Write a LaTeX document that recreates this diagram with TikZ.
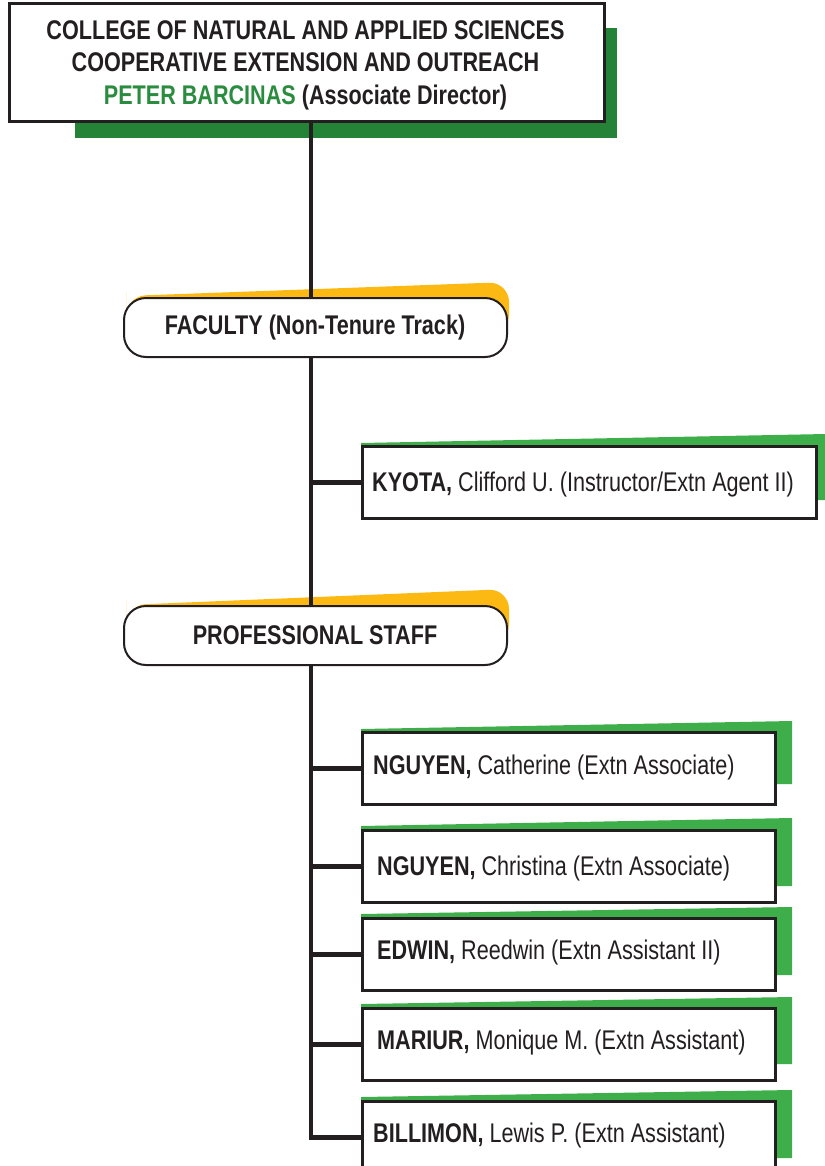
\documentclass[tikz,border=0pt]{standalone}
\usepackage{fontspec}
\setmainfont{Liberation Sans}[FakeStretch=0.80]
\definecolor{ink}{HTML}{231F20}
\definecolor{dgreen}{HTML}{248337}
\definecolor{lgreen}{HTML}{3DAE49}
\definecolor{gold}{HTML}{FDB913}
\definecolor{tgreen}{HTML}{2A8C3F}
\begin{document}
\begin{tikzpicture}[x=1bp,y=-1bp]
\useasboundingbox (0,0) rectangle (825,1166);
\tikzset{
  txt/.style={font=\fontsize{27bp}{32.5bp}\selectfont, text=ink, inner sep=0pt},
  conn/.style={draw=ink, line width=4.5bp},
  topbox/.style={draw=ink, fill=white, line width=2.5bp, inner sep=0pt, anchor=north west, minimum width=595bp, minimum height=118bp},
  headbox/.style={draw=ink, fill=white, line width=2bp, rounded corners=22bp, inner sep=0pt, anchor=north west, minimum width=383bp, minimum height=59bp},
  staffbox/.style={draw=ink, fill=white, line width=2.5bp, inner sep=0pt, anchor=north west, minimum width=413bp, minimum height=72bp},
  kbox/.style={staffbox, minimum width=454bp},
  gshade/.style={fill=lgreen},
  yshade/.style={fill=gold, rounded corners=20bp}
}
% top box shadow
\fill[dgreen] (75,28) rectangle (617,138);
% spine
\coordinate (s0) at (311,120);
% heading shadows
\fill[yshade] (126,312) -- (126,296) -- (509,282) -- (509,335) -- (126,335) -- cycle;
\fill[yshade] (126,620) -- (126,605) -- (509,589) -- (509,644) -- (126,644) -- cycle;
% staff shadows
\fill[gshade] (361,443) -- (826,434) -- (826,500) -- (361,500) -- cycle;
\fill[gshade] (361,729) -- (792,721) -- (792,784) -- (361,784) -- cycle;
\fill[gshade] (361,826) -- (792,818) -- (792,886) -- (361,886) -- cycle;
\fill[gshade] (361,914) -- (792,907) -- (792,975) -- (361,975) -- cycle;
\fill[gshade] (361,1004) -- (792,997) -- (792,1064) -- (361,1064) -- cycle;
\fill[gshade] (361,1097) -- (792,1090) -- (792,1158) -- (361,1158) -- cycle;
% boxes (nodes)
\node[kbox] (kyota) at (361,445) {};
\node[staffbox] (b1) at (361,731) {};
\node[staffbox] (b2) at (361,829) {};
\node[staffbox] (b3) at (361,917) {};
\node[staffbox] (b4) at (361,1007) {};
\node[staffbox] (b5) at (361,1100) {};
% connectors
\draw[conn] (s0) -- (s0 |- b5.west) -- (b5.west);
\draw[conn] (s0 |- kyota.west) -- (kyota.west);
\draw[conn] (s0 |- b1.west) -- (b1.west);
\draw[conn] (s0 |- b2.west) -- (b2.west);
\draw[conn] (s0 |- b3.west) -- (b3.west);
\draw[conn] (s0 |- b4.west) -- (b4.west);
% redraw box borders over connector ends
\node[kbox, fill=none] at (361,445) {};
\foreach \y in {731,829,917,1007,1100} \node[staffbox, fill=none] at (361,\y) {};
% top box
\node[topbox] (top) at (8,2) {};
\node[txt, align=center] (toptext) at (305.5,65) {\bfseries COLLEGE OF NATURAL AND APPLIED SCIENCES\\\bfseries COOPERATIVE EXTENSION AND OUTREACH\\\bfseries\textcolor{tgreen}{PETER BARCINAS} (Associate Director)};
% heading boxes
\node[headbox] (fac) at (123,297) {};
\node[txt, font=\fontsize{27bp}{30bp}\selectfont\bfseries] (factext) at (315,328) {FACULTY (Non-Tenure Track)};
\node[headbox] (prof) at (123,605) {};
\node[txt, font=\fontsize{27bp}{30bp}\selectfont\bfseries] (proftext) at (315,635) {PROFESSIONAL STAFF};
% staff texts
\node[txt, anchor=base west] (kt) at (372,491) {\textbf{KYOTA,} Clifford U. (Instructor/Extn Agent II)};
\node[txt, anchor=base west] (t1) at (373,774) {\textbf{NGUYEN,} Catherine (Extn Associate)};
\node[txt, anchor=base west] (t2) at (377,875) {\textbf{NGUYEN,} Christina (Extn Associate)};
\node[txt, anchor=base west] (t3) at (377,959) {\textbf{EDWIN,} Reedwin (Extn Assistant II)};
\node[txt, anchor=base west] (t4) at (377,1049) {\textbf{MARIUR,} Monique M. (Extn Assistant)};
\node[txt, anchor=base west] (t5) at (373,1142) {\textbf{BILLIMON,} Lewis P. (Extn Assistant)};
\end{tikzpicture}
\end{document}
